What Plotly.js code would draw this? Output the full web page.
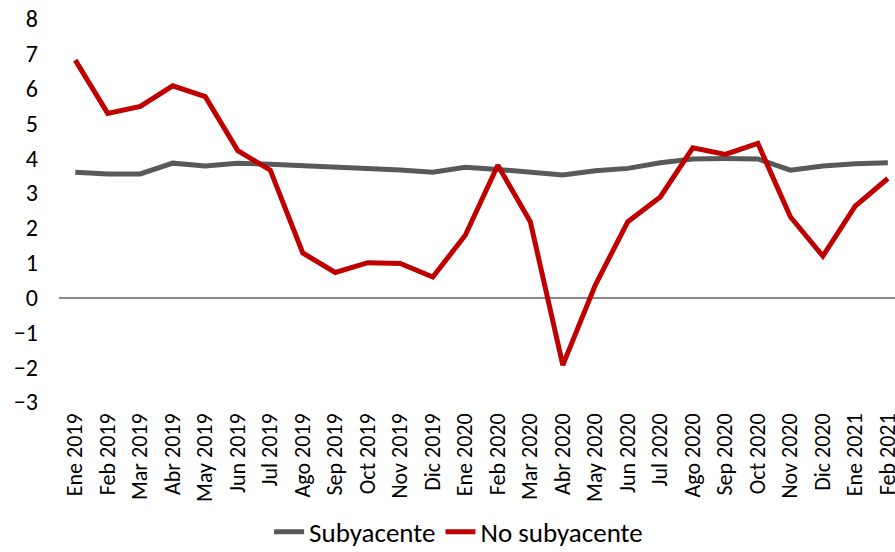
<!DOCTYPE html>
<html><head><meta charset="utf-8">
<script src="https://cdn.plot.ly/plotly-3.0.1.min.js"></script>
<style>html,body{margin:0;padding:0;background:#fff;}#chart{width:895px;height:552px;}</style>
</head><body><div id="chart"></div>
<script>
const months = ["Ene 2019","Feb 2019","Mar 2019","Abr 2019","May 2019","Jun 2019","Jul 2019","Ago 2019","Sep 2019","Oct 2019","Nov 2019","Dic 2019",
"Ene 2020","Feb 2020","Mar 2020","Abr 2020","May 2020","Jun 2020","Jul 2020","Ago 2020","Sep 2020","Oct 2020","Nov 2020","Dic 2020","Ene 2021","Feb 2021"];
const subyacente = [3.60,3.55,3.55,3.86,3.78,3.86,3.83,3.79,3.76,3.69,3.66,3.60,3.74,3.68,3.61,3.52,3.64,3.71,3.87,3.98,3.99,3.98,3.66,3.78,3.84,3.87];
const noSubyacente = [6.82,5.29,5.49,6.08,5.77,4.22,3.66,1.28,0.72,1.00,0.98,0.59,1.79,3.80,2.18,-1.94,0.36,2.18,2.89,4.30,4.11,4.43,2.32,1.19,2.63,3.42];
const yTicks = [-3,-2,-1,0,1,2,3,4,5,6,7,8];

const font = "Carlito, Lato, 'Open Sans', sans-serif";
const data = [
  {x: months, y: subyacente, type: 'scatter', mode: 'lines', name: 'Subyacente',
   line: {color: '#595959', width: 5}},
  {x: months, y: noSubyacente, type: 'scatter', mode: 'lines', name: 'No subyacente',
   line: {color: '#C00000', width: 5}}
];
const layout = {
  width: 895, height: 552,
  margin: {l: 59, r: 0, t: 19, b: 150},
  paper_bgcolor: '#fff', plot_bgcolor: '#fff',
  font: {family: font, color: '#000', size: 20},
  showlegend: true,
  legend: {orientation: 'h', x: 0.478, xanchor: 'center', yref: 'container', y: 0.036, yanchor: 'middle',
           font: {size: 27, color: '#000'}},
  xaxis: {type: 'category', range: [-0.5, 25.22], showgrid: false, zeroline: false,
          showline: false, ticks: '', tickangle: -90, tickfont: {size: 22}, automargin: false,
          ticklabelstandoff: 6},
  yaxis: {range: [-3, 8], tickvals: yTicks, showgrid: false, zeroline: true,
          zerolinecolor: '#898989', zerolinewidth: 2, showline: false, ticks: '',
          tickfont: {size: 24}, automargin: false, ticklabelstandoff: 20}
};
Plotly.newPlot('chart', data, layout, {displayModeBar: false, staticPlot: true});
</script></body></html>
